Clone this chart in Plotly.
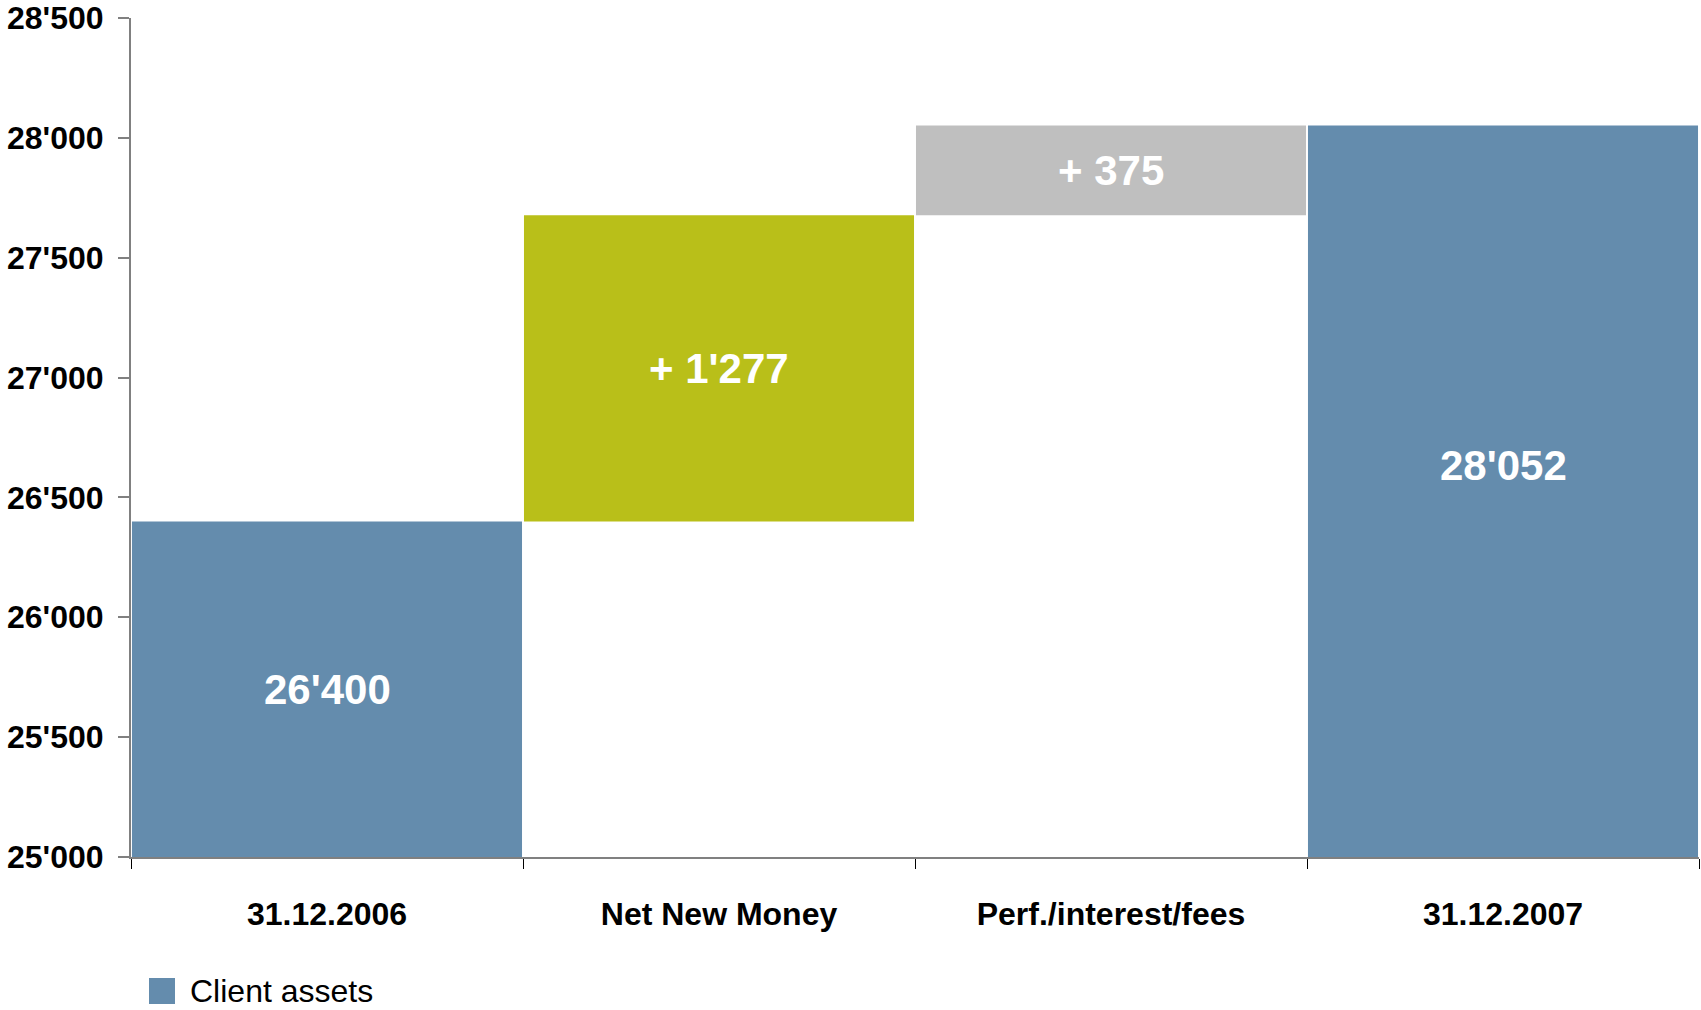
import plotly.graph_objects as go

# Client asset bridge, 31.12.2006 -> 31.12.2007
categories = ["31.12.2006", "Net New Money", "Perf./interest/fees", "31.12.2007"]
opening_assets = 26400
net_new_money = 1277
performance = 375
closing_assets = 28052

y_min, y_max, y_step = 25000, 28500, 500
y_ticks = list(range(y_min, y_max + 1, y_step))

BLUE = "#648cad"
GREEN = "#b9bf19"
GREY = "#bfbfbf"
FONT = "Liberation Sans, Arial, sans-serif"

# plot-area geometry in pixels
W, H = 1701, 1010
M_L, M_R, M_T, M_B = 131, 2, 18, 153
PW, PH = W - M_L - M_R, H - M_T - M_B
AXIS_Y = H - M_B


def fmt(v):
    return f"{v:,}".replace(",", "'")


fig = go.Figure()

# totals (start / end)
fig.add_trace(go.Bar(
    x=[categories[0], categories[3]],
    y=[opening_assets, closing_assets],
    base=[0, 0],
    marker=dict(color=BLUE, line=dict(width=0)),
    name="Client assets",
    showlegend=False,
    hoverinfo="skip",
))

# increments floating on the running total
fig.add_trace(go.Bar(
    x=[categories[1], categories[2]],
    y=[net_new_money, performance],
    base=[opening_assets, opening_assets + net_new_money],
    marker=dict(color=[GREEN, GREY], line=dict(width=0)),
    showlegend=False,
    hoverinfo="skip",
))

# value labels in the middle of each visible block
labels = [
    (categories[0], (y_min + opening_assets) / 2, fmt(opening_assets), 0),
    (categories[1], opening_assets + net_new_money / 2, "+ " + fmt(net_new_money), 0),
    (categories[2], opening_assets + net_new_money + performance / 2, "+ " + fmt(performance), 0),
    (categories[3], (y_min + closing_assets) / 2, fmt(closing_assets), 26),
]
for cat, yv, txt, shift in labels:
    fig.add_annotation(
        x=cat, y=yv, text=txt, showarrow=False, yshift=shift,
        font=dict(family=FONT, size=42, color="white", weight="bold"),
    )

# legend swatch and text below the axis
fig.add_shape(
    type="rect", xref="paper", yref="paper",
    x0=(149 - M_L) / PW, x1=(175 - M_L) / PW,
    y0=-(978 - AXIS_Y) / PH, y1=-(1004 - AXIS_Y) / PH,
    fillcolor=BLUE, line=dict(width=0),
)
fig.add_annotation(
    xref="paper", yref="paper",
    x=(188 - M_L) / PW, y=-(991 - AXIS_Y) / PH,
    xanchor="left", yanchor="middle", showarrow=False,
    text="Client assets",
    font=dict(family=FONT, size=32, color="black"),
)

fig.update_layout(
    width=W, height=H,
    margin=dict(l=M_L, r=M_R, t=M_T, b=M_B, autoexpand=False),
    paper_bgcolor="white", plot_bgcolor="white",
    barmode="overlay", bargap=0.005,
    separators=".'",
    showlegend=False,
)
fig.update_xaxes(
    type="category", categoryorder="array", categoryarray=categories,
    tickson="boundaries", ticks="outside", ticklen=10, tickcolor="black", tickwidth=1,
    showline=True, linecolor="#808080", linewidth=2,
    showgrid=False, zeroline=False, automargin=False,
    tickfont=dict(family=FONT, size=32, color="black", weight="bold"),
    ticklabelstandoff=28,
)
fig.update_yaxes(
    range=[y_min, y_max], tickmode="array", tickvals=y_ticks, tickformat=",",
    ticklabeloverflow="allow",
    ticks="outside", ticklen=11, tickcolor="#808080", tickwidth=1.5,
    showline=True, linecolor="#808080", linewidth=2,
    showgrid=False, zeroline=False, automargin=False,
    tickfont=dict(family=FONT, size=32, color="black", weight="bold"),
    ticklabelstandoff=8,
)

fig.write_html("out.html")
